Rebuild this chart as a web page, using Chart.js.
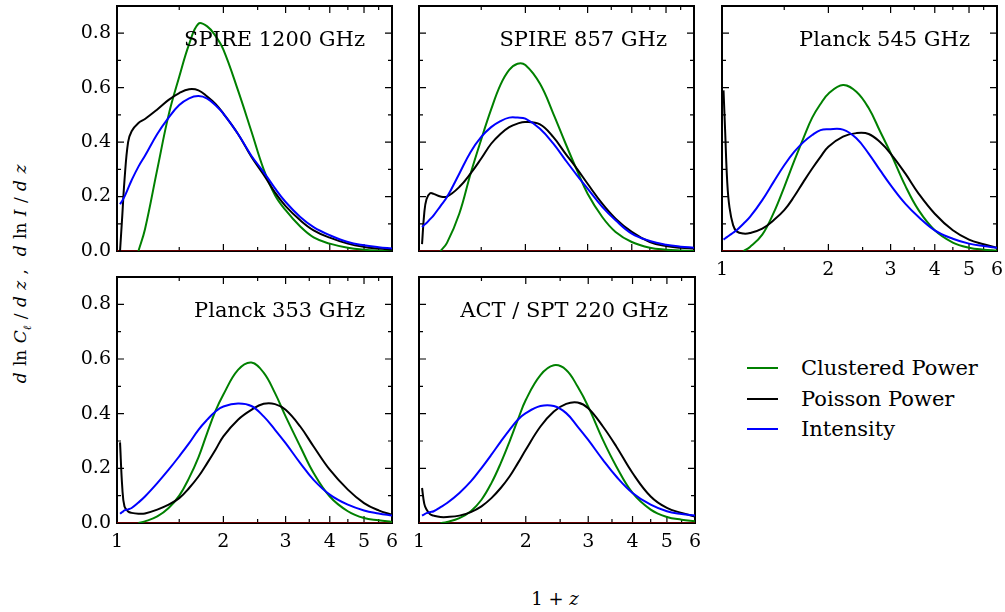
<!DOCTYPE html>
<html>
<head>
<meta charset="utf-8">
<script src="https://cdn.jsdelivr.net/npm/chart.js@4.4.1/dist/chart.umd.min.js"></script>
<style>
  body { margin: 0; background: #fff; width: 1005px; height: 612px; position: relative; overflow: hidden; font-family: "DejaVu Serif", serif; color: #000; }
  canvas { position: absolute; }
  .ylab { position: absolute; left: 22px; top: 274px; transform: translate(-50%, -50%) rotate(-90deg); white-space: nowrap; font-size: 17px; word-spacing: 1px; }
  .ylab i { font-style: italic; }
  .ylab sub { font-size: 11px; font-style: italic; }
  .xlab { position: absolute; left: 555px; top: 598px; transform: translate(-50%, -50%); font-size: 18px; white-space: nowrap; }
  .leg-line { position: absolute; left: 747px; width: 31px; height: 2px; }
  .leg-text { position: absolute; left: 801px; font-size: 21px; transform: translateY(-50%); white-space: nowrap; }
</style>
</head>
<body>
<canvas id="p1" width="355" height="261" style="left:47px;top:0px"></canvas>
<canvas id="p2" width="295" height="261" style="left:409px;top:0px"></canvas>
<canvas id="p3" width="293" height="281" style="left:712px;top:0px"></canvas>
<canvas id="p4" width="355" height="286" style="left:47px;top:267px"></canvas>
<canvas id="p5" width="296" height="286" style="left:409px;top:267px"></canvas>

<div class="ylab"><i>d</i> ln <i>C</i><sub>ℓ</sub> / <i>d z</i> ,&nbsp; <i>d</i> ln <i>I</i> / <i>d z</i></div>
<div class="xlab">1 + <i>z</i></div>

<div class="leg-line" style="top:367px;background:#008000"></div>
<div class="leg-text" style="top:368px">Clustered Power</div>
<div class="leg-line" style="top:398px;background:#000000"></div>
<div class="leg-text" style="top:399px">Poisson Power</div>
<div class="leg-line" style="top:428px;background:#0000ff"></div>
<div class="leg-text" style="top:429px">Intensity</div>

<script>
// 1+z sample points shared by all curves
const zGrid = [1.0, 1.01, 1.02, 1.035, 1.05, 1.075, 1.1, 1.15, 1.2, 1.3, 1.4, 1.5, 1.6, 1.7, 1.8, 1.9, 2.0, 2.2, 2.4, 2.6, 2.8, 3.0, 3.3, 3.6, 4.0, 4.5, 5.0, 5.5, 6.0];

const panelTitles = ['SPIRE 1200 GHz', 'SPIRE 857 GHz', 'Planck 545 GHz', 'Planck 353 GHz', 'ACT / SPT 220 GHz'];
const seriesNames = ['Clustered Power', 'Poisson Power', 'Intensity'];
const seriesColors = ['#008000', '#000000', '#0000ff'];

const xLabelTicks = [1, 2, 3, 4, 5, 6];
const xMajorTicks = [2, 3, 4, 5];
const xMinorTicks = [1.5, 2.5, 3.5, 4.5, 5.5];
const yMajorTicks = [0, 0.2, 0.4, 0.6, 0.8];
const yMinorTicks = [0.1, 0.3, 0.5, 0.7];

const zeroX = [1, 6];
const zeroY = [0, 0];

// SPIRE 1200
const clustered1200 = [null, null, null, null, null, null, null, 0.0, 0.08, 0.30, 0.50, 0.64, 0.76, 0.835, 0.825, 0.79, 0.74, 0.59, 0.44, 0.30, 0.205, 0.15, 0.09, 0.05, 0.027, 0.012, 0.005, 0.002, 0.001];
const poisson1200 = [null, null, 0.0, 0.13, 0.26, 0.40, 0.44, 0.47, 0.485, 0.52, 0.555, 0.58, 0.594, 0.59, 0.567, 0.54, 0.505, 0.43, 0.346, 0.28, 0.215, 0.165, 0.113, 0.076, 0.049, 0.027, 0.015, 0.009, 0.005];
const intensity1200 = [null, null, 0.172, 0.185, 0.2, 0.23, 0.26, 0.31, 0.35, 0.43, 0.49, 0.536, 0.561, 0.569, 0.56, 0.535, 0.505, 0.43, 0.35, 0.29, 0.23, 0.18, 0.125, 0.088, 0.058, 0.033, 0.021, 0.014, 0.009];

// SPIRE 857
const clustered857 = [null, null, null, null, null, null, null, 0.0, 0.03, 0.137, 0.285, 0.41, 0.52, 0.61, 0.665, 0.688, 0.683, 0.614, 0.504, 0.394, 0.296, 0.21, 0.125, 0.07, 0.033, 0.012, 0.005, 0.002, 0.0];
const poisson857 = [null, null, 0.025, 0.14, 0.19, 0.212, 0.21, 0.2, 0.2, 0.235, 0.285, 0.34, 0.394, 0.43, 0.455, 0.468, 0.474, 0.465, 0.418, 0.357, 0.302, 0.247, 0.174, 0.119, 0.07, 0.033, 0.018, 0.012, 0.009];
const intensity857 = [null, null, 0.088, 0.096, 0.103, 0.117, 0.131, 0.165, 0.198, 0.284, 0.364, 0.419, 0.455, 0.477, 0.49, 0.49, 0.486, 0.449, 0.394, 0.333, 0.278, 0.229, 0.162, 0.113, 0.064, 0.037, 0.023, 0.016, 0.012];

// Planck 545
const clustered545 = [null, null, null, null, null, null, null, 0.0, 0.015, 0.06, 0.14, 0.235, 0.33, 0.415, 0.49, 0.54, 0.578, 0.61, 0.585, 0.525, 0.44, 0.36, 0.24, 0.15, 0.076, 0.031, 0.012, 0.005, 0.002];
const poisson545 = [null, 0.59, 0.45, 0.25, 0.16, 0.095, 0.072, 0.064, 0.066, 0.082, 0.113, 0.15, 0.2, 0.254, 0.303, 0.346, 0.383, 0.42, 0.433, 0.43, 0.40, 0.358, 0.285, 0.211, 0.137, 0.076, 0.042, 0.025, 0.012];
const intensity545 = [null, 0.042, 0.046, 0.052, 0.058, 0.067, 0.076, 0.1, 0.125, 0.187, 0.254, 0.315, 0.364, 0.40, 0.426, 0.444, 0.447, 0.446, 0.414, 0.358, 0.297, 0.242, 0.174, 0.125, 0.076, 0.045, 0.027, 0.018, 0.012];

// Planck 353
const clustered353 = [null, null, null, null, null, null, null, 0.0, 0.006, 0.024, 0.055, 0.1, 0.165, 0.24, 0.33, 0.41, 0.47, 0.56, 0.587, 0.55, 0.475, 0.39, 0.28, 0.183, 0.097, 0.043, 0.018, 0.01, 0.004];
const poisson353 = [null, null, 0.295, 0.13, 0.06, 0.042, 0.037, 0.034, 0.035, 0.049, 0.067, 0.091, 0.128, 0.17, 0.219, 0.268, 0.317, 0.378, 0.414, 0.436, 0.435, 0.414, 0.353, 0.28, 0.195, 0.122, 0.073, 0.046, 0.03];
const intensity353 = [null, null, 0.034, 0.04, 0.046, 0.05, 0.055, 0.075, 0.097, 0.146, 0.195, 0.244, 0.292, 0.341, 0.378, 0.408, 0.426, 0.437, 0.428, 0.39, 0.341, 0.292, 0.219, 0.158, 0.104, 0.067, 0.046, 0.035, 0.027];

// ACT / SPT 220
const clustered220 = [null, null, null, null, null, null, null, 0.0, 0.004, 0.018, 0.043, 0.085, 0.146, 0.219, 0.298, 0.378, 0.45, 0.541, 0.577, 0.56, 0.499, 0.426, 0.304, 0.207, 0.11, 0.049, 0.022, 0.012, 0.006];
const poisson220 = [null, null, 0.128, 0.07, 0.049, 0.032, 0.027, 0.022, 0.022, 0.027, 0.04, 0.061, 0.091, 0.128, 0.17, 0.219, 0.268, 0.353, 0.408, 0.436, 0.441, 0.42, 0.353, 0.28, 0.183, 0.097, 0.055, 0.037, 0.024];
const intensity220 = [null, null, 0.027, 0.032, 0.036, 0.04, 0.043, 0.058, 0.073, 0.11, 0.152, 0.201, 0.25, 0.298, 0.341, 0.378, 0.402, 0.428, 0.428, 0.402, 0.353, 0.304, 0.231, 0.17, 0.11, 0.067, 0.043, 0.033, 0.027];

Chart.defaults.font.family = "'DejaVu Serif', serif";
Chart.defaults.font.size = 19;
Chart.defaults.color = '#000';

function toPoints(xs, ys) {
  return xs.map((x, i) => ({ x: x, y: ys[i] }));
}

// inward ticks on all four sides + black frame, panel title inside
const framePlugin = {
  id: 'frame',
  beforeDatasetsDraw(chart) {
    const ctx = chart.ctx;
    const a = chart.chartArea;
    const xs = chart.scales.x, ys = chart.scales.y;
    ctx.save();
    ctx.strokeStyle = '#000';
    ctx.lineWidth = 1.2;
    ctx.beginPath();
    function xt(v, len) {
      const px = xs.getPixelForValue(v);
      ctx.moveTo(px, a.bottom); ctx.lineTo(px, a.bottom - len);
      ctx.moveTo(px, a.top); ctx.lineTo(px, a.top + len);
    }
    function yt(v, len) {
      const py = ys.getPixelForValue(v);
      ctx.moveTo(a.left, py); ctx.lineTo(a.left + len, py);
      ctx.moveTo(a.right, py); ctx.lineTo(a.right - len, py);
    }
    xMajorTicks.forEach(v => xt(v, 7));
    xMinorTicks.forEach(v => xt(v, 4));
    yMajorTicks.forEach(v => yt(v, 7));
    yMinorTicks.forEach(v => yt(v, 4));
    ctx.stroke();
    ctx.lineWidth = 2;
    ctx.strokeRect(a.left, a.top, a.right - a.left, a.bottom - a.top);
    ctx.restore();
  },
  afterDraw(chart) {
    const ctx = chart.ctx;
    const a = chart.chartArea;
    ctx.save();
    ctx.font = "21px 'DejaVu Serif'";
    ctx.fillStyle = '#000';
    ctx.textAlign = 'right';
    ctx.textBaseline = 'alphabetic';
    ctx.fillText(chart.options.plugins.panelTitle, a.right - 27, a.top + 40);
    ctx.restore();
  }
};

function makePanel(id, title, series, m, showX, showY) {
  const datasets = [{
    data: toPoints(zeroX, zeroY),
    borderColor: '#8b0000',
    borderWidth: 1.5,
    pointRadius: 0,
    order: 4
  }];
  series.forEach((s, i) => {
    datasets.push({
      label: seriesNames[i],
      data: toPoints(zGrid, s),
      borderColor: seriesColors[i],
      borderWidth: 2,
      pointRadius: 0,
      tension: 0.4,
      spanGaps: false,
      order: 3 - i
    });
  });

  new Chart(document.getElementById(id), {
    type: 'line',
    data: { datasets: datasets },
    options: {
      responsive: false,
      animation: false,
      devicePixelRatio: 1,
      layout: { padding: { left: 0, top: m.t, right: m.r, bottom: 0 } },
      plugins: {
        legend: { display: false },
        tooltip: { enabled: false },
        panelTitle: title
      },
      scales: {
        x: {
          type: 'logarithmic',
          min: 1,
          max: 6,
          grid: { display: false, drawTicks: false },
          border: { display: false },
          afterBuildTicks: s => { s.ticks = xLabelTicks.map(v => ({ value: v })); },
          afterFit: s => { s.height = m.b; s.paddingLeft = 0; s.paddingRight = 0; },
          ticks: {
            display: showX,
            autoSkip: false,
            maxRotation: 0,
            padding: 8,
            callback: v => String(v)
          }
        },
        y: {
          min: 0,
          max: 0.9,
          grid: { display: false, drawTicks: false },
          border: { display: false },
          afterBuildTicks: s => { s.ticks = yMajorTicks.map(v => ({ value: v })); },
          afterFit: s => { s.width = m.l; s.paddingTop = 0; s.paddingBottom = 0; },
          ticks: {
            display: showY,
            padding: 6,
            callback: v => Number(v).toFixed(1)
          }
        }
      }
    },
    plugins: [framePlugin]
  });
}

makePanel('p1', panelTitles[0], [clustered1200, poisson1200, intensity1200], { l: 70, t: 6, r: 10, b: 10 }, false, true);
makePanel('p2', panelTitles[1], [clustered857, poisson857, intensity857], { l: 10, t: 6, r: 10, b: 10 }, false, false);
makePanel('p3', panelTitles[2], [clustered545, poisson545, intensity545], { l: 10, t: 6, r: 8, b: 30 }, true, false);
makePanel('p4', panelTitles[3], [clustered353, poisson353, intensity353], { l: 70, t: 10, r: 10, b: 30 }, true, true);
makePanel('p5', panelTitles[4], [clustered220, poisson220, intensity220], { l: 10, t: 10, r: 10, b: 30 }, true, false);
</script>
</body>
</html>
